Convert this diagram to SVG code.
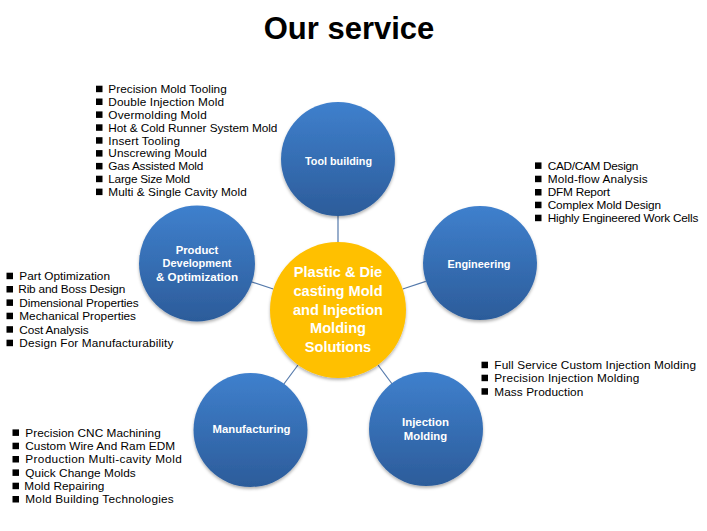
<svg xmlns="http://www.w3.org/2000/svg" width="707" height="531" viewBox="0 0 707 531">
<defs>
<linearGradient id="blue" x1="0" y1="0" x2="0" y2="1">
<stop offset="0" stop-color="#3f80cd"/>
<stop offset="1" stop-color="#2c5c9a"/>
</linearGradient>
<filter id="sh" x="-20%" y="-20%" width="140%" height="150%">
<feDropShadow dx="0" dy="2" stdDeviation="1.6" flood-color="#000" flood-opacity="0.3"/>
</filter>
<rect id="b" width="6.5" height="6.5" fill="#000"/>
</defs>
<style>
.title{font-family:"Liberation Sans",Arial,sans-serif;font-weight:bold;font-size:31px;fill:#000}
.node{fill:url(#blue);filter:url(#sh)}
.hub{fill:#ffc000;filter:url(#sh)}
.lbl{font-family:"Liberation Sans",Arial,sans-serif;font-weight:bold;font-size:11.3px;fill:#fff;text-anchor:middle}
.hubt{font-family:"Liberation Sans",Arial,sans-serif;font-weight:bold;font-size:14.6px;fill:#fff;text-anchor:middle}
.li{font-family:"Liberation Sans",Arial,sans-serif;font-size:11.8px;fill:#000}
.conn line{stroke:#5479ab;stroke-width:1.2}
</style>
<rect width="707" height="531" fill="#fff"/>
<text class="title" x="349" y="39" text-anchor="middle">Our service</text>

<g id="connectors" class="conn">
<line x1="338" y1="242" x2="338" y2="216"/>
<line x1="402.7" y1="289" x2="425.8" y2="281.4"/>
<line x1="378" y1="365" x2="392.5" y2="384.5"/>
<line x1="298" y1="365" x2="283.5" y2="384.5"/>
<line x1="273.3" y1="289" x2="250.2" y2="281.4"/>
</g>

<g id="hub">
<circle class="hub" cx="338" cy="310" r="68"/>
<text class="hubt" x="338" y="277">Plastic &amp; Die</text>
<text class="hubt" x="338" y="295.5">casting Mold</text>
<text class="hubt" x="338" y="314.5">and Injection</text>
<text class="hubt" x="338" y="333">Molding</text>
<text class="hubt" x="338" y="351.5">Solutions</text>
</g>

<g id="tool-building">
<circle class="node" cx="338" cy="159" r="57"/>
<text class="lbl" x="338.5" y="165" textLength="67" lengthAdjust="spacingAndGlyphs">Tool building</text>
<use href="#b" x="96" y="85.7"/><text class="li" x="108.3" y="93" textLength="118.4">Precision Mold Tooling</text>
<use href="#b" x="96" y="98.5"/><text class="li" x="108.3" y="105.8" textLength="115.7">Double Injection Mold</text>
<use href="#b" x="96" y="111.4"/><text class="li" x="108.3" y="118.7" textLength="98.4">Overmolding Mold</text>
<use href="#b" x="96" y="124.3"/><text class="li" x="108.3" y="131.6" textLength="169">Hot &amp; Cold Runner System Mold</text>
<use href="#b" x="96" y="137.2"/><text class="li" x="108.3" y="144.5" textLength="71.7">Insert Tooling</text>
<use href="#b" x="96" y="150.1"/><text class="li" x="108.3" y="157.4" textLength="98.4">Unscrewing Mould</text>
<use href="#b" x="96" y="162.9"/><text class="li" x="108.3" y="170.2" textLength="95">Gas Assisted Mold</text>
<use href="#b" x="96" y="175.7"/><text class="li" x="108.3" y="183" textLength="81.7">Large Size Mold</text>
<use href="#b" x="96" y="188.6"/><text class="li" x="108.3" y="195.9" textLength="138.4">Multi &amp; Single Cavity Mold</text>
</g>

<g id="engineering">
<circle class="node" cx="480" cy="263" r="57"/>
<text class="lbl" x="479" y="267.5" textLength="63" lengthAdjust="spacingAndGlyphs">Engineering</text>
<use href="#b" x="535" y="162.4"/><text class="li" x="547.7" y="169.7" textLength="90.6">CAD/CAM Design</text>
<use href="#b" x="535" y="175.7"/><text class="li" x="547.7" y="183" textLength="100">Mold-flow Analysis</text>
<use href="#b" x="535" y="189"/><text class="li" x="547.7" y="196.3" textLength="62.3">DFM Report</text>
<use href="#b" x="535" y="201.7"/><text class="li" x="547.7" y="209" textLength="113.3">Complex Mold Design</text>
<use href="#b" x="535" y="214.7"/><text class="li" x="547.7" y="222" textLength="150.6">Highly Engineered Work Cells</text>
</g>

<g id="injection-molding">
<circle class="node" cx="426" cy="429" r="57"/>
<text class="lbl" x="425.5" y="426" textLength="47" lengthAdjust="spacingAndGlyphs">Injection</text>
<text class="lbl" x="425.5" y="440">Molding</text>
<use href="#b" x="481.5" y="361.7"/><text class="li" x="494.3" y="369" textLength="201.7">Full Service Custom Injection Molding</text>
<use href="#b" x="481.5" y="374.7"/><text class="li" x="494.3" y="382" textLength="145">Precision Injection Molding</text>
<use href="#b" x="481.5" y="388.2"/><text class="li" x="494.3" y="395.5" textLength="89">Mass Production</text>
</g>

<g id="manufacturing">
<circle class="node" cx="250.5" cy="430" r="57"/>
<text class="lbl" x="251.5" y="433" textLength="78" lengthAdjust="spacingAndGlyphs">Manufacturing</text>
<use href="#b" x="12.5" y="429.4"/><text class="li" x="25.3" y="436.7" textLength="135.4">Precision CNC Machining</text>
<use href="#b" x="12.5" y="442.7"/><text class="li" x="25.3" y="450" textLength="149.7">Custom Wire And Ram EDM</text>
<use href="#b" x="12.5" y="456"/><text class="li" x="25.3" y="463.3" textLength="156.4">Production Multi-cavity Mold</text>
<use href="#b" x="12.5" y="469.4"/><text class="li" x="25.3" y="476.7" textLength="110.4">Quick Change Molds</text>
<use href="#b" x="12.5" y="482.7"/><text class="li" x="24.3" y="490" textLength="80">Mold Repairing</text>
<use href="#b" x="12.5" y="496"/><text class="li" x="25.3" y="503.3" textLength="148.4">Mold Building Technologies</text>
</g>

<g id="product-development">
<circle class="node" cx="197" cy="263.5" r="58"/>
<text class="lbl" x="197" y="253.5">Product</text>
<text class="lbl" x="197" y="267" textLength="69" lengthAdjust="spacingAndGlyphs">Development</text>
<text class="lbl" x="197" y="281" textLength="82" lengthAdjust="spacingAndGlyphs">&amp; Optimization</text>
<use href="#b" x="6.5" y="272.7"/><text class="li" x="19.3" y="280" textLength="90.7">Part Optimization</text>
<use href="#b" x="6.5" y="286"/><text class="li" x="18.3" y="293.3" textLength="107">Rib and Boss Design</text>
<use href="#b" x="6.5" y="299.4"/><text class="li" x="19.3" y="306.7" textLength="119.4">Dimensional Properties</text>
<use href="#b" x="6.5" y="312.7"/><text class="li" x="19.3" y="320" textLength="116.7">Mechanical Properties</text>
<use href="#b" x="6.5" y="326.2"/><text class="li" x="19.3" y="333.5" textLength="69.4">Cost Analysis</text>
<use href="#b" x="6.5" y="339.7"/><text class="li" x="19.3" y="347" textLength="154">Design For Manufacturability</text>
</g>
</svg>
